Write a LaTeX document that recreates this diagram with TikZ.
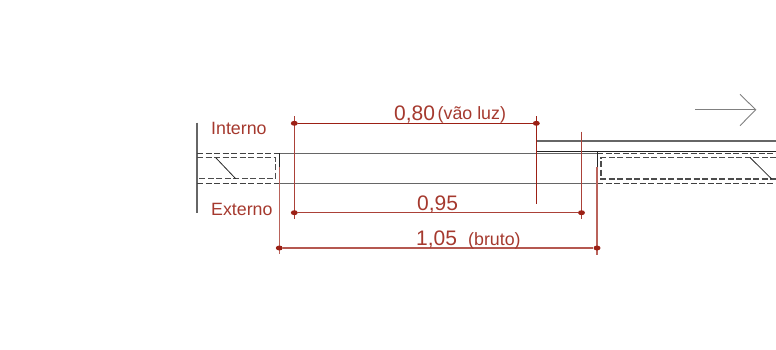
\documentclass[tikz,border=0pt]{standalone}
\usepackage{fontspec}
\usetikzlibrary{shapes.geometric}
\setmainfont{Liberation Sans}
\definecolor{dimred}{HTML}{9C2015}
\definecolor{txtred}{HTML}{A5392E}
\tikzset{
  dimline/.style={draw=dimred,line width=1.05pt},
  extline/.style={draw=dimred!85!white,line width=1.1pt},
  wallline/.style={draw=black!60,line width=0.9pt},
  solidline/.style={draw=black!85,line width=1pt},
  dashline/.style={draw=black!75,line width=1pt,dash pattern=on 6pt off 2.5pt},
  tick/.style={ellipse,fill=dimred,inner sep=0pt,minimum width=7pt,minimum height=5pt},
  lab/.style={text=txtred,inner sep=0pt,anchor=base west,font=\fontsize{17.8}{20}\selectfont},
  labbig/.style={text=txtred,inner sep=0pt,anchor=base west,font=\fontsize{21}{24}\selectfont},
}
\begin{document}
\begin{tikzpicture}[x=1pt,y=-1pt]
\useasboundingbox (0,0) rectangle (776,349);
% wall section, left
\draw[draw=black!60,line width=1.2pt] (197,122.7) -- (197,213);
\draw[dashline] (197,153) -- (279,153);
\draw[dashline] (197,183) -- (279,183);
\draw[dashline,line width=1.2pt,draw=black!70] (197,157.5) -- (275.5,157.5) -- (275.5,178.5) -- (197,178.5);
\draw[solidline,line width=0.8pt] (216,158) -- (235.7,178.7);
% wall section, right
\draw[dashline] (597,153.3) -- (776,153.3);
\draw[dashline] (597,183.3) -- (776,183.3);
\draw[dashline,line width=1.2pt,draw=black!70] (776,157.5) -- (601,157.5) -- (601,179) -- (776,179);
\draw[solidline,line width=0.8pt] (750,157.5) -- (771.7,179);
% opening
\draw[wallline] (279,153) -- (597,153);
\draw[wallline] (279,183) -- (597,183);
\draw[wallline,line width=1.1pt] (536.3,141) -- (776,141);
\draw[solidline] (536.3,151.7) -- (776,151.7);
\draw[solidline] (279.3,153) -- (279.3,167);
\draw[solidline] (597,152) -- (597,167);
\draw[solidline,draw=black!70] (581.7,152) -- (581.7,183);
% direction arrow
\draw[draw=black!50,line width=0.9pt] (695,109.7) -- (755.7,109.7);
\draw[draw=black!50,line width=0.9pt] (740,94.3) -- (755.7,109.7) -- (740,125.7);
% extension lines
\draw[extline] (294.3,116) -- (294.3,219);
\draw[dimline] (536.3,116) -- (536.3,204);
\draw[extline,line width=1.2pt] (581.5,131.7) -- (581.5,219);
\draw[extline,draw=dimred!70!white] (279.3,167) -- (279.3,254);
\draw[extline,draw=dimred!70!white] (597,167) -- (597,255);
% dimension lines
\node[tick] (a1) at (294.3,123.3) {};
\node[tick] (a2) at (536.3,123.3) {};
\node[tick] (b1) at (294.3,212.7) {};
\node[tick] (b2) at (581.5,212.7) {};
\node[tick] (c1) at (279.3,248) {};
\node[tick] (c2) at (597,248) {};
\draw[dimline] (a1) -- (a2);
\draw[dimline,draw=dimred!85!white] (b1) -- (b2);
\draw[dimline,draw=dimred!75!white] (c1) -- (c2);
% texts
\node[lab] (tint) at (211,134) {Interno};
\node[lab] (text) at (211,215) {Externo};
\node[labbig] (t80) at (394,120.5) {0,80};
\node[lab] (tvao) at (437.5,119.5) {(vão luz)};
\node[labbig] (t95) at (417,210) {0,95};
\node[labbig] (t105) at (416,245) {1,05};
\node[lab] (tbruto) at (468,245) {(bruto)};
\end{tikzpicture}
\end{document}
